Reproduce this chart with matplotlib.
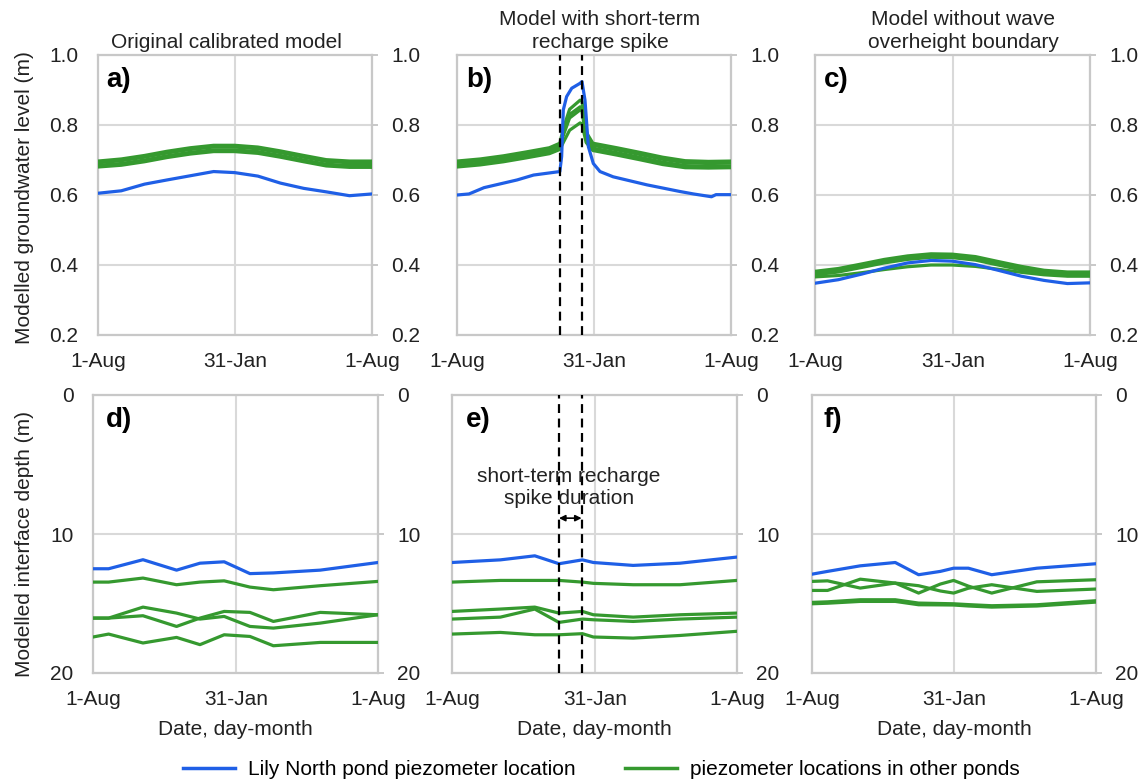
import matplotlib
matplotlib.use("Agg")
import matplotlib.pyplot as plt
from matplotlib.lines import Line2D

plt.rcParams['font.family'] = ['Liberation Sans', 'DejaVu Sans']

BLUE = "#1f5fe6"
GREEN = "#35992f"
GRID = "#d9d9d9"
SPINE = "#c8c8c8"

# ---------------- data ----------------
tick_days = [0, 183, 365]
tick_labels = ["1-Aug", "31-Jan", "1-Aug"]
spike_start, spike_end = 137, 166

# panel a (groundwater level, m)
days_a = [0, 31, 62, 92, 123, 154, 182, 213, 243, 274, 304, 335, 365]
a_blue = [0.605, 0.612, 0.631, 0.643, 0.655, 0.667, 0.664, 0.654, 0.634, 0.619, 0.609, 0.598, 0.603]
a_g1 = [0.697, 0.703, 0.713, 0.725, 0.735, 0.742, 0.742, 0.737, 0.726, 0.713, 0.701, 0.697, 0.697]
a_g2 = [0.692, 0.698, 0.708, 0.720, 0.730, 0.737, 0.737, 0.732, 0.721, 0.708, 0.696, 0.692, 0.692]
a_g3 = [0.685, 0.690, 0.700, 0.712, 0.722, 0.729, 0.729, 0.724, 0.713, 0.700, 0.688, 0.684, 0.684]
a_g4 = [0.680, 0.685, 0.695, 0.707, 0.717, 0.724, 0.724, 0.719, 0.708, 0.695, 0.683, 0.679, 0.679]

# panel b
days_b_blue = [0, 16, 36, 80, 102, 137, 139.4, 141.6, 146, 152.8, 163.8, 166.5, 170.5, 175,
               181.6, 190.5, 208, 253, 297, 315, 339, 345, 365]
b_blue = [0.600, 0.603, 0.621, 0.643, 0.657, 0.667, 0.710, 0.843, 0.881, 0.905, 0.919, 0.924,
          0.871, 0.738, 0.690, 0.667, 0.652, 0.629, 0.610, 0.603, 0.595, 0.601, 0.601]
days_b_green = [0, 31, 62, 92, 123, 137, 141.6, 150, 164, 166.5, 172, 181, 213, 243, 274, 304, 335, 365]
b_g1 = [0.697, 0.703, 0.712, 0.723, 0.735, 0.748, 0.790, 0.845, 0.871, 0.868, 0.780, 0.748, 0.735, 0.722, 0.708, 0.698, 0.696, 0.697]
b_g2 = [0.692, 0.698, 0.707, 0.718, 0.730, 0.743, 0.780, 0.830, 0.852, 0.849, 0.770, 0.742, 0.729, 0.716, 0.702, 0.692, 0.690, 0.691]
b_g3 = [0.685, 0.691, 0.700, 0.711, 0.723, 0.736, 0.770, 0.820, 0.843, 0.840, 0.760, 0.734, 0.721, 0.708, 0.694, 0.684, 0.682, 0.683]
b_g4 = [0.680, 0.686, 0.695, 0.706, 0.718, 0.730, 0.750, 0.785, 0.806, 0.803, 0.750, 0.727, 0.714, 0.701, 0.687, 0.678, 0.677, 0.678]

# panel c
days_c = [0, 31, 62, 92, 123, 154, 182, 213, 243, 274, 304, 335, 365]
c_blue = [0.348, 0.358, 0.374, 0.391, 0.406, 0.413, 0.411, 0.401, 0.385, 0.368, 0.356, 0.347, 0.349]
c_g1 = [0.382, 0.390, 0.403, 0.416, 0.426, 0.432, 0.431, 0.424, 0.410, 0.396, 0.385, 0.380, 0.380]
c_g2 = [0.378, 0.386, 0.399, 0.412, 0.422, 0.428, 0.427, 0.420, 0.406, 0.392, 0.381, 0.376, 0.376]
c_g3 = [0.372, 0.380, 0.393, 0.406, 0.416, 0.422, 0.421, 0.414, 0.400, 0.386, 0.375, 0.370, 0.370]
c_g4 = [0.366, 0.370, 0.378, 0.387, 0.395, 0.400, 0.400, 0.396, 0.388, 0.379, 0.372, 0.368, 0.368]

# panel d (interface depth, m)
days_d = [0, 20, 64, 107, 137, 168, 201, 231, 291, 365]
d_blue = [12.5, 12.5, 11.85, 12.6, 12.1, 12.0, 12.85, 12.8, 12.6, 12.05]
d_g1 = [13.46, 13.46, 13.17, 13.65, 13.46, 13.37, 13.82, 14.01, 13.72, 13.41]
d_g2 = [16.05, 16.05, 15.26, 15.69, 16.12, 15.93, 16.65, 16.77, 16.41, 15.81]
d_g3 = [16.05, 16.05, 15.88, 16.65, 16.05, 15.57, 15.64, 16.29, 15.64, 15.81]
d_g4 = [17.41, 17.2, 17.84, 17.44, 17.96, 17.25, 17.37, 18.04, 17.8, 17.8]

# panel e
days_e = [0, 62, 106, 137, 167, 181, 232, 292, 365]
e_blue = [12.05, 11.86, 11.57, 12.14, 11.86, 12.05, 12.26, 12.1, 11.66]
e_g1 = [13.46, 13.34, 13.34, 13.34, 13.46, 13.55, 13.65, 13.65, 13.34]
e_g2 = [15.57, 15.4, 15.26, 15.69, 15.57, 15.81, 15.98, 15.81, 15.69]
e_g3 = [16.12, 15.98, 15.4, 16.36, 16.12, 16.17, 16.29, 16.12, 15.98]
e_g4 = [17.2, 17.08, 17.25, 17.25, 17.17, 17.41, 17.49, 17.3, 17.0]

# panel f
days_f = [0, 20, 62, 107, 137, 165, 182, 201, 231, 289, 365]
f_blue = [12.89, 12.69, 12.29, 12.05, 12.93, 12.69, 12.46, 12.46, 12.93, 12.46, 12.14]
f_g1 = [13.41, 13.37, 13.89, 13.53, 13.72, 14.1, 14.25, 13.9, 13.65, 14.13, 13.96]
f_g2 = [14.06, 14.06, 13.25, 13.53, 14.25, 13.6, 13.34, 13.75, 14.25, 13.44, 13.29]
f_g3 = [14.92, 14.88, 14.73, 14.73, 14.97, 15.0, 15.02, 15.08, 15.16, 15.09, 14.8]
f_g4 = [15.02, 14.98, 14.85, 14.85, 15.09, 15.1, 15.11, 15.18, 15.26, 15.18, 14.9]

titles = ["Original calibrated model", "Model with short-term\nrecharge spike",
          "Model without wave\noverheight boundary"]
title_x = [0.47, 0.522, 0.538]
panel_labels = ["a)", "b)", "c)", "d)", "e)", "f)"]
panel_label_x = [0.03, 0.033, 0.033, 0.046, 0.049, 0.042]

# ---------------- figure ----------------
W, H = 1141, 784
fig = plt.figure(figsize=(W / 100, H / 100), dpi=100)

def box(l, r, t, b):
    return [l / W, 1 - b / H, (r - l) / W, (b - t) / H]

axes = [
    fig.add_axes(box(98, 372, 55, 335)),
    fig.add_axes(box(457, 731, 55, 335)),
    fig.add_axes(box(815, 1090, 55, 335)),
    fig.add_axes(box(93, 378, 395, 673)),
    fig.add_axes(box(452, 737, 395, 673)),
    fig.add_axes(box(812, 1096, 395, 673)),
]

panel_data = [
    (days_a, a_blue, [(days_a, g) for g in (a_g1, a_g2, a_g3, a_g4)]),
    (days_b_blue, b_blue, [(days_b_green, g) for g in (b_g1, b_g2, b_g3, b_g4)]),
    (days_c, c_blue, [(days_c, g) for g in (c_g1, c_g2, c_g3, c_g4)]),
    (days_d, d_blue, [(days_d, g) for g in (d_g1, d_g2, d_g3, d_g4)]),
    (days_e, e_blue, [(days_e, g) for g in (e_g1, e_g2, e_g3, e_g4)]),
    (days_f, f_blue, [(days_f, g) for g in (f_g1, f_g2, f_g3, f_g4)]),
]

TXT = '#222222'
FS = 15

for i, ax in enumerate(axes):
    top = i < 3
    dx, by, greens = panel_data[i]
    for gx, gy in greens:
        ax.plot(gx, gy, color=GREEN, lw=2.3, solid_joinstyle='round', zorder=3)
    ax.plot(dx, by, color=BLUE, lw=2.3, solid_joinstyle='round', zorder=4)

    ax.set_xlim(0, 365)
    ax.set_xticks(tick_days)
    ax.set_xticklabels(tick_labels)
    if top:
        ax.set_ylim(0.2, 1.0)
        ax.set_yticks([0.2, 0.4, 0.6, 0.8, 1.0])
        ax.set_yticklabels(["0.2", "0.4", "0.6", "0.8", "1.0"])
    else:
        ax.set_ylim(20, 0)
        ax.set_yticks([0, 10, 20])
        ax.set_yticklabels(["0", "10", "20"])

    ax.grid(True, color=GRID, lw=1.5, zorder=0)
    ax.set_axisbelow(True)
    for s in ax.spines.values():
        s.set_color(SPINE)
        s.set_linewidth(1.6)
    ax.tick_params(axis='y', left=False, right=True, labelleft=(i % 3 == 0), labelright=True,
                   length=4.5, width=1.4, color=SPINE, pad=9.5, labelsize=FS, labelcolor=TXT)
    ax.tick_params(axis='x', bottom=False, length=0, pad=12, labelsize=FS, labelcolor=TXT)

    ax.text(panel_label_x[i], 0.91, panel_labels[i], transform=ax.transAxes, ha='left', va='center',
            fontsize=20, fontweight='bold', color='black', zorder=6)

    if top:
        ax.set_title(titles[i], x=title_x[i], fontsize=FS, pad=5, color=TXT, linespacing=1.3)
    else:
        ax.set_xlabel("Date, day-month", fontsize=FS, labelpad=8, color=TXT)

# dashed spike markers
for ax in (axes[1], axes[4]):
    for d in (spike_start, spike_end):
        ax.axvline(d, color='black', lw=1.6, ls=(0, (4, 2.5)), zorder=5)

axes[4].text((spike_start + spike_end) / 2 - 2, 6.65, "short-term recharge\nspike duration",
             ha='center', va='center', fontsize=FS, color=TXT, linespacing=1.2, zorder=6)
axes[4].annotate("", xy=(spike_start, 8.86), xytext=(spike_end, 8.86),
                 arrowprops=dict(arrowstyle='<|-|>', color='black', lw=1.2,
                                 mutation_scale=9, shrinkA=0, shrinkB=0), zorder=6)

fig.text(25 / W, 1 - 198 / H, "Modelled groundwater level (m)", rotation=90,
         ha='center', va='center', fontsize=FS, color=TXT)
fig.text(25 / W, 1 - 544 / H, "Modelled interface depth (m)", rotation=90,
         ha='center', va='center', fontsize=FS, color=TXT)

handles = [Line2D([], [], color=BLUE, lw=2.5), Line2D([], [], color=GREEN, lw=2.5)]
fig.legend(handles, ["Lily North pond piezometer location", "piezometer locations in other ponds"],
           loc='center', bbox_to_anchor=(0.527, 0.018), ncol=2, frameon=False,
           fontsize=FS, handlelength=2.5, handletextpad=0.6, columnspacing=2.4)

fig.savefig("out.png", dpi=100, facecolor='white')
